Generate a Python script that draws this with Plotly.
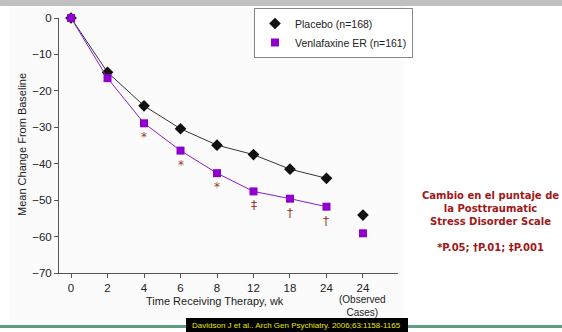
import plotly.graph_objects as go

weeks = ["0", "2", "4", "6", "8", "12", "18", "24"]
obs_label = "24"
obs_note = "(Observed<br>Cases)"
placebo = [0, -14.9, -24.1, -30.4, -34.9, -37.5, -41.5, -44.0]
venla = [0, -16.5, -28.9, -36.4, -42.6, -47.6, -49.6, -51.8]
placebo_obs = -54.1
venla_obs = -59.1
sig_marks = ["", "", "*", "*", "*", "\u2021", "\u2020", "\u2020"]
y_ticks = [0, -10, -20, -30, -40, -50, -60, -70]

xi = list(range(len(weeks)))
sans = "Liberation Sans Narrow, Arial Narrow, Liberation Sans, Arial"

fig = go.Figure()
fig.add_trace(go.Scatter(
    x=xi, y=placebo, mode="lines+markers", showlegend=False,
    line=dict(color="#333333", width=1),
    marker=dict(symbol="diamond", size=9, color="#111111"),
    cliponaxis=False))
fig.add_trace(go.Scatter(
    x=xi, y=venla, mode="lines+markers", showlegend=False,
    line=dict(color="#8a1ad0", width=1),
    marker=dict(symbol="square", size=8, color="#9000cc"),
    cliponaxis=False))
fig.add_trace(go.Scatter(
    x=[len(weeks)], y=[placebo_obs], mode="markers", showlegend=False,
    marker=dict(symbol="diamond", size=9, color="#111111")))
fig.add_trace(go.Scatter(
    x=[len(weeks)], y=[venla_obs], mode="markers", showlegend=False,
    marker=dict(symbol="square", size=8, color="#9000cc")))
# legend entries (markers only)
fig.add_trace(go.Scatter(x=[None], y=[None], mode="markers", name="Placebo (n=168)",
                         marker=dict(symbol="diamond", size=9, color="#111111")))
fig.add_trace(go.Scatter(x=[None], y=[None], mode="markers", name="Venlafaxine ER (n=161)",
                         marker=dict(symbol="square", size=8, color="#9000cc")))

for i, m in enumerate(sig_marks):
    if m:
        fig.add_annotation(x=i, y=venla[i], text=m, showarrow=False, yshift=-14,
                           font=dict(color="#a03a2a", size=12, family="DejaVu Sans"))

fig.add_annotation(x=len(weeks), xref="x", yref="paper", y=-(306-273)/255,
                   text=obs_note, showarrow=False, xanchor="center", yanchor="middle",
                   font=dict(size=10))

# slide decorations
fig.add_shape(type="rect", xref="paper", yref="paper", x0=-50/339, x1=(405-59)/339,
              y0=-(320-273)/255, y1=1+13/255, fillcolor="#fbfbfb", line_width=0, layer="below")
fig.add_shape(type="rect", xref="paper", yref="paper", x0=-59/339, x1=(562-59)/339,
              y0=1+12/255, y1=1+18/255, fillcolor="#c0c0c0", line_width=0, layer="below")
fig.add_shape(type="rect", xref="paper", yref="paper", x0=-59/339, x1=(562-59)/339,
              y0=-(328-273)/255, y1=-(325-273)/255, fillcolor="#5e9e80", line_width=0)
fig.add_shape(type="rect", xref="paper", yref="paper", x0=(186-59)/339, x1=(408-59)/339,
              y0=-59/255, y1=-(318-273)/255, fillcolor="#000000", line_width=0)
fig.add_annotation(xref="paper", yref="paper", x=(296-59)/339, y=-(325-273)/255,
                   xanchor="center", yanchor="middle",
                   text="Davidson J et al.. Arch Gen Psychiatry. 2006;63:1158-1165",
                   showarrow=False, font=dict(color="#e8e800", size=8, family=sans))
fig.add_annotation(xref="paper", yref="paper", x=(215-59)/339, y=-(301-273)/255,
                   xanchor="center", yanchor="middle", text="Time Receiving Therapy, wk",
                   showarrow=False, font=dict(size=11))
fig.add_annotation(xref="paper", yref="paper", x=-37/339, y=(273-145)/255,
                   textangle=-90, xanchor="center", yanchor="middle",
                   text="Mean Change From Baseline", showarrow=False, font=dict(size=11))
fig.add_annotation(xref="paper", yref="paper", x=(490-59)/339, y=(273-221)/255,
                   text="<b>Cambio en el puntaje de<br>la Posttraumatic<br>Stress Disorder Scale<br><br>*P.05; \u2020P.01; \u2021P.001</b>",
                   showarrow=False, align="center", xanchor="center", yanchor="middle",
                   font=dict(color="#a01818", size=10, family="DejaVu Sans"))

fig.update_layout(
    width=562, height=332,
    margin=dict(l=59, r=164, t=18, b=59, autoexpand=False),
    paper_bgcolor="white", plot_bgcolor="rgba(0,0,0,0)",
    font=dict(family=sans, size=11.5, color="#222222"),
    showlegend=True,
    legend=dict(x=(254-59)/339, y=1+10/255, xanchor="left", yanchor="top",
                bgcolor="white", bordercolor="#888888", borderwidth=1,
                font=dict(size=10.5), tracegroupgap=0, itemwidth=30),
)
fig.update_xaxes(
    range=[-0.33, 8.96], tickvals=xi + [len(weeks)], ticktext=weeks + [obs_label],
    tickangle=0, automargin=False,
    showgrid=False, zeroline=False, showline=True, linecolor="#555555", linewidth=1,
    ticks="outside", ticklen=4, tickcolor="#555555")
fig.update_yaxes(
    range=[-70, 0], tickvals=y_ticks, ticktext=[str(v).replace("-", "\u2212") for v in y_ticks],
    automargin=False,
    showgrid=False, zeroline=False, showline=True, linecolor="#555555", linewidth=1,
    ticks="outside", ticklen=4, tickcolor="#555555")

fig.write_html("out.html", config={"displayModeBar": False},
               post_script="document.body.style.margin='0';")
